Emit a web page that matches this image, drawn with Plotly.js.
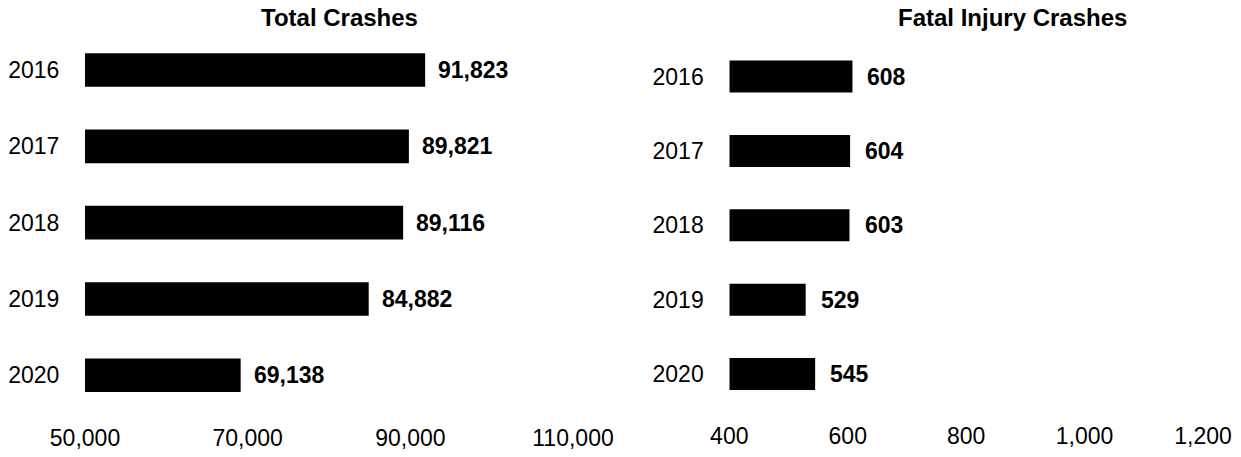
<!DOCTYPE html>
<html>
<head>
<meta charset="utf-8">
<script src="https://cdn.plot.ly/plotly-3.0.1.min.js"></script>
<style>
html,body{margin:0;padding:0;background:#fff;}
#chart{width:1241px;height:457px;}
</style>
</head>
<body>
<div id="chart"></div>
<script>
const years = ["2016", "2017", "2018", "2019", "2020"];
const totalCrashes = [91823, 89821, 89116, 84882, 69138];
const fatalCrashes = [608, 604, 603, 529, 545];
const totalTicks = [50000, 70000, 90000, 110000];
const fatalTicks = [400, 600, 800, 1000, 1200];
const titles = ["Total Crashes", "Fatal Injury Crashes"];
const totalBase = 50000;
const fatalBase = 400;

const fmt = v => v.toLocaleString("en-US");
const FONT = "Liberation Sans, Arial, sans-serif";

const traces = [
  {type: "bar", orientation: "h", y: years, x: totalCrashes.map(v => v - totalBase), base: totalBase,
   xaxis: "x", yaxis: "y", marker: {color: "#000000", line: {width: 0}}, width: 0.44},
  {type: "bar", orientation: "h", y: years, x: fatalCrashes.map(v => v - fatalBase), base: fatalBase,
   xaxis: "x2", yaxis: "y2", marker: {color: "#000000", line: {width: 0}}, width: 0.43}
];

const annotations = [];
years.forEach((yr, i) => {
  annotations.push({xref: "x", yref: "y", x: totalCrashes[i], y: i, text: "<b>" + fmt(totalCrashes[i]) + "</b>",
    showarrow: false, xanchor: "left", yanchor: "middle", xshift: 11, font: {family: FONT, size: 23, color: "#000"}});
  annotations.push({xref: "x2", yref: "y2", x: fatalCrashes[i], y: i, text: "<b>" + fmt(fatalCrashes[i]) + "</b>",
    showarrow: false, xanchor: "left", yanchor: "middle", xshift: 13, font: {family: FONT, size: 23, color: "#000"}});
});
annotations.push({xref: "paper", yref: "paper", x: 339/1241, y: 1 - 18/457, text: "<b>" + titles[0] + "</b>",
  showarrow: false, xanchor: "center", yanchor: "middle", font: {family: FONT, size: 24, color: "#000"}});
annotations.push({xref: "paper", yref: "paper", x: 1012/1241, y: 1 - 18/457, text: "<b>" + titles[1] + "</b>",
  showarrow: false, xanchor: "center", yanchor: "middle", font: {family: FONT, size: 24, color: "#000"}});

const tickFont = {family: FONT, size: 23, color: "#000"};
const xCommon = {showgrid: false, zeroline: false, showline: false, ticks: "outside", ticklen: 4,
  tickcolor: "rgba(0,0,0,0)", tickfont: tickFont, fixedrange: true};
const yCommon = {type: "category", categoryorder: "array", categoryarray: years, range: [4.5, -0.5],
  showgrid: false, zeroline: false, showline: false, ticks: "outside", ticklen: 20,
  tickcolor: "rgba(0,0,0,0)", tickfont: tickFont, fixedrange: true};

const layout = {
  width: 1241, height: 457,
  margin: {l: 0, r: 0, t: 0, b: 0},
  paper_bgcolor: "#fff", plot_bgcolor: "#fff",
  showlegend: false,
  font: {family: FONT, color: "#000"},
  xaxis: Object.assign({}, xCommon, {domain: [85/1241, 573/1241], range: [50000, 110000],
    tickvals: totalTicks, ticktext: totalTicks.map(fmt), anchor: "y"}),
  yaxis: Object.assign({}, yCommon, {domain: [(457-413.4)/457, (457-31.9)/457], anchor: "x"}),
  xaxis2: Object.assign({}, xCommon, {domain: [729.3/1241, 1203/1241], range: [400, 1200],
    tickvals: fatalTicks, ticktext: fatalTicks.map(fmt), anchor: "y2"}),
  yaxis2: Object.assign({}, yCommon, {domain: [(457-411.3)/457, (457-39.3)/457], anchor: "x2"}),
  annotations: annotations
};

Plotly.newPlot("chart", traces, layout, {displayModeBar: false, staticPlot: true});
</script>
</body>
</html>
